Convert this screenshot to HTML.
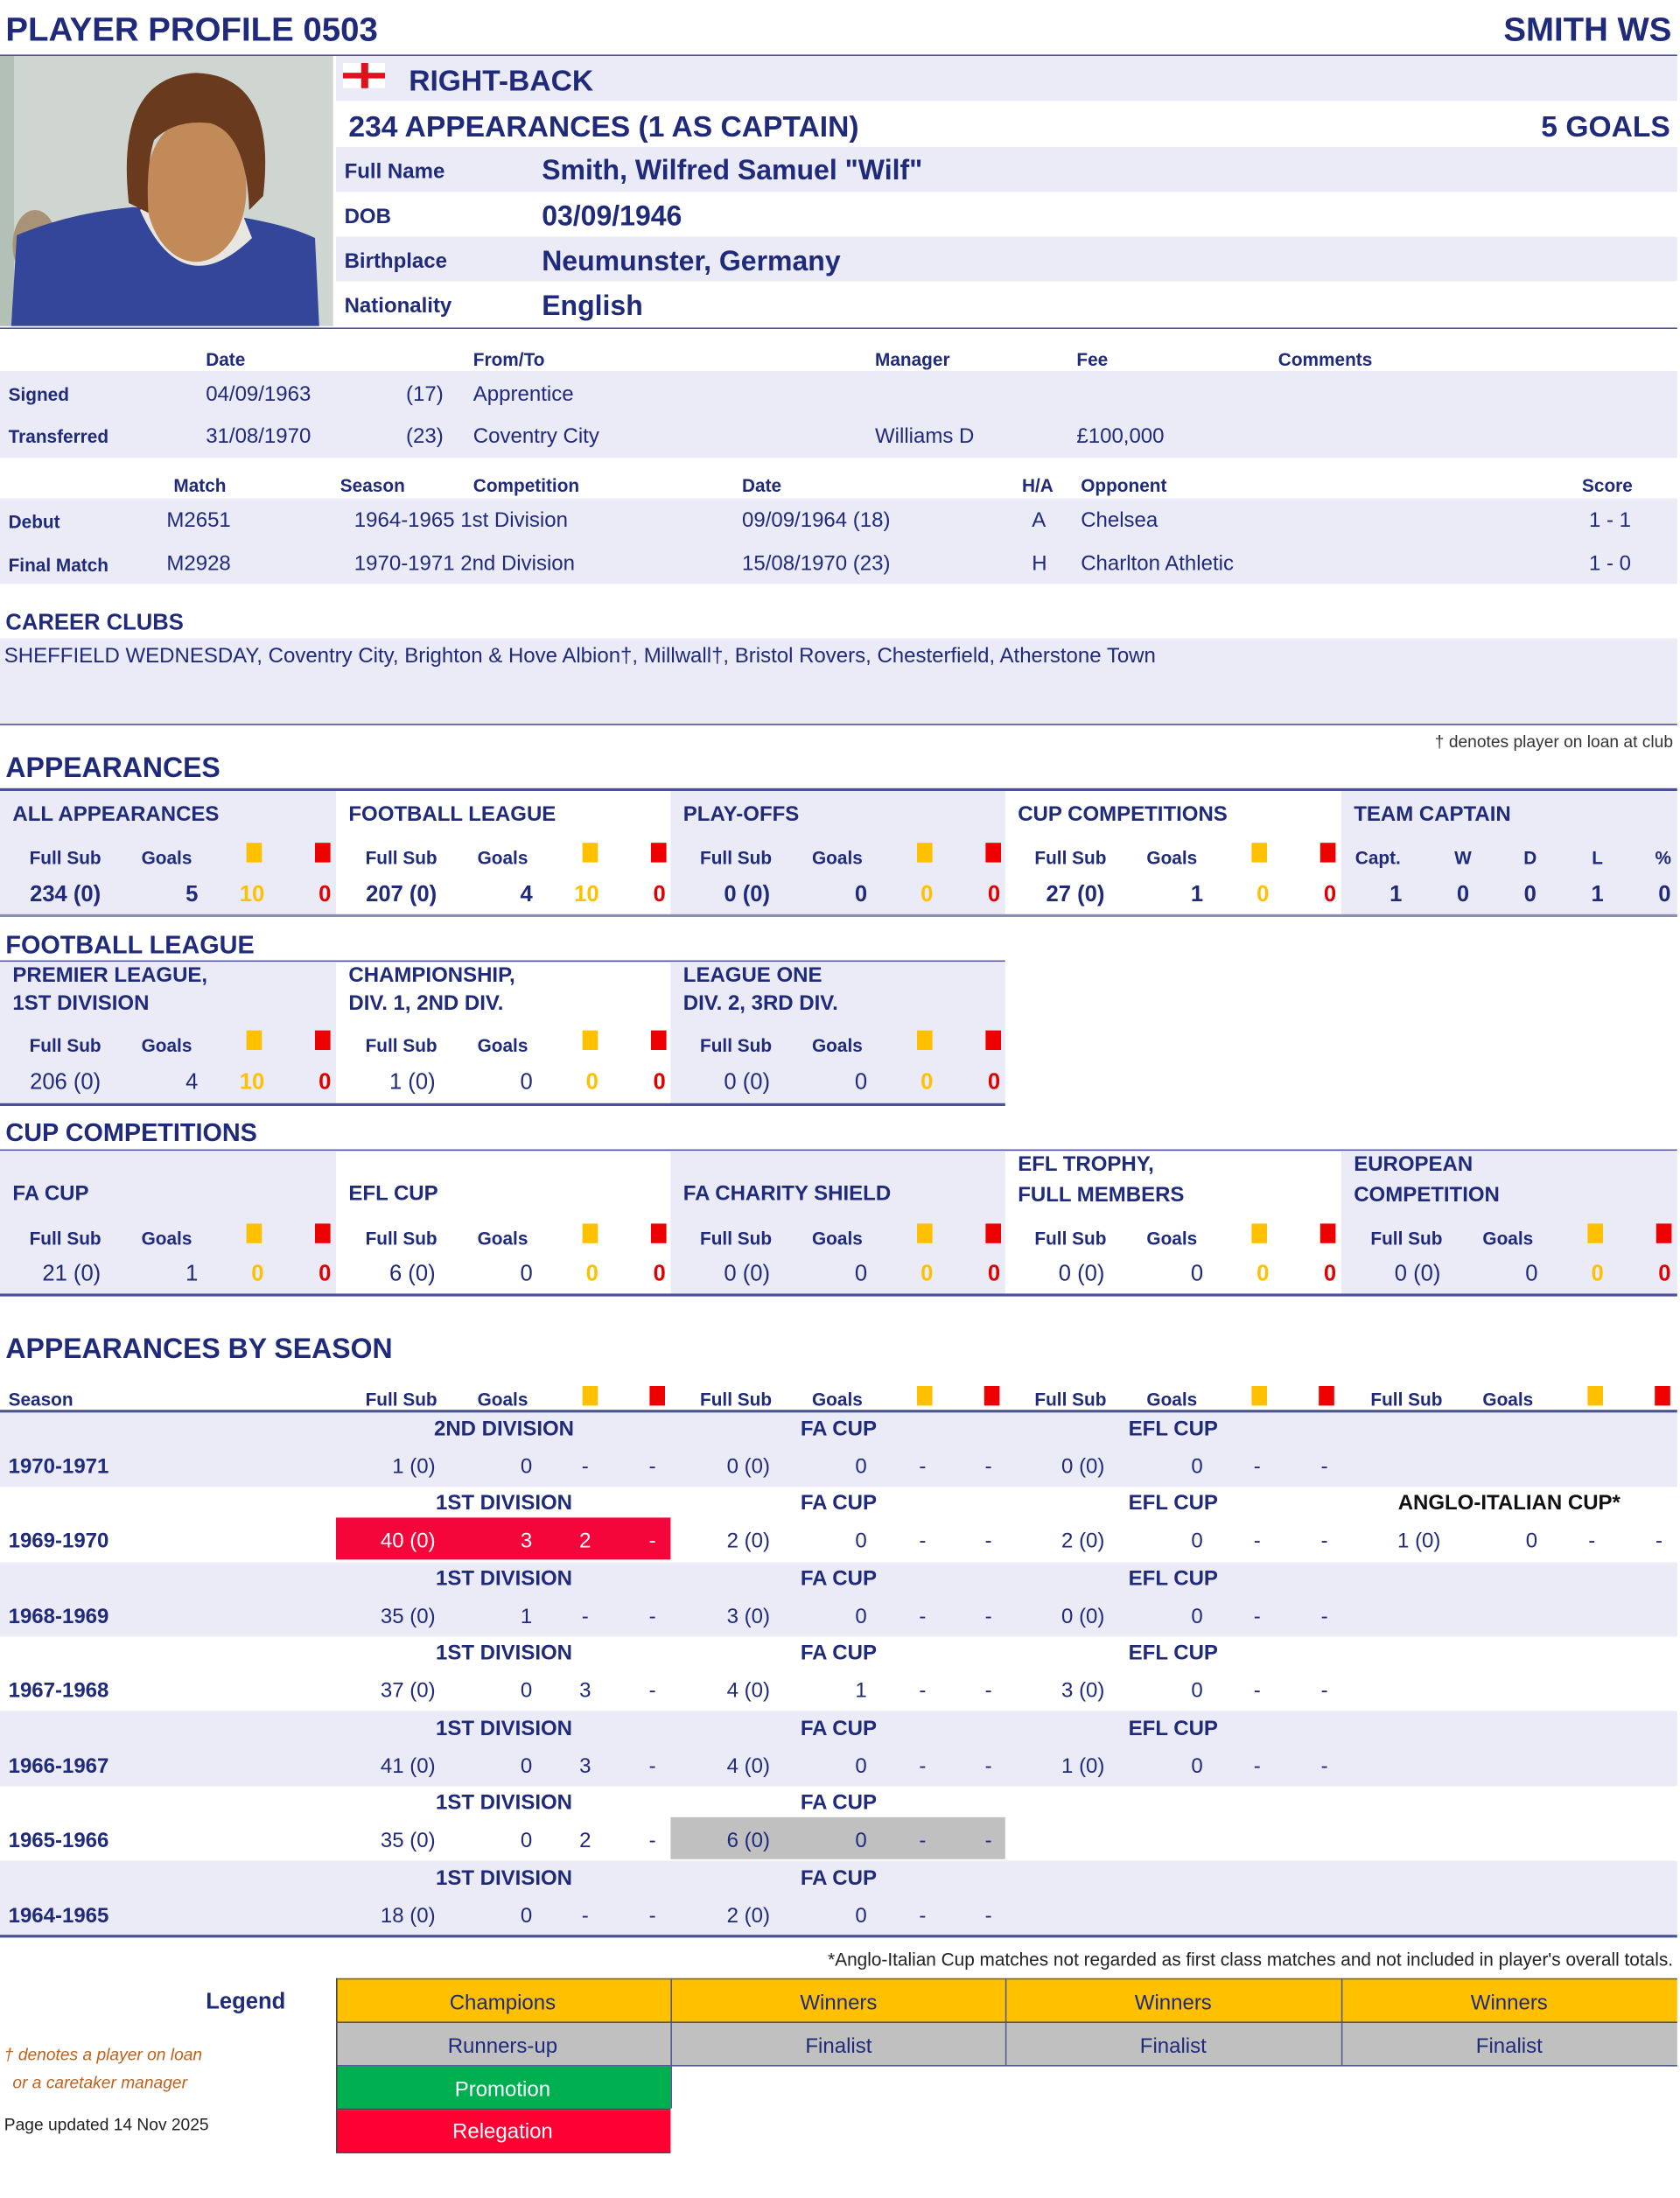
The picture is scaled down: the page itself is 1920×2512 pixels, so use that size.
<!DOCTYPE html>
<html><head><meta charset="utf-8">
<style>
html,body{margin:0;padding:0;background:#fff;}
body{width:1920px;height:2512px;overflow:hidden;position:relative;}
#w{position:absolute;left:0;top:0;width:1200px;height:1570px;transform:scale(1.6);transform-origin:0 0;font-family:"Liberation Sans",sans-serif;color:#1f2a7a;}
#w div{position:absolute;}
.t{white-space:nowrap;line-height:1;transform:translateY(-45%);}
.c{white-space:nowrap;line-height:1;transform:translate(-50%,-45%);}
.r{white-space:nowrap;line-height:1;transform:translate(-100%,-45%);}
.b{font-weight:bold;}
.lav{background:#ebebf7;}
.ln{height:1px;background:#4a4f99;}
.h{font-size:13px;font-weight:bold;}
.v{font-size:15px;}
.ys{width:11px;height:14px;background:#ffc000;}
.rs{width:11px;height:14px;background:#ee0000;}
.y{color:#ffc000;}
.rd{color:#e00000;}
.pt{font-size:15px;font-weight:bold;}
.sec{font-size:20px;font-weight:bold;}
</style></head><body><div id="w">

<!-- header -->
<div class="t b" style="left:4px;top:21px;font-size:24px;">PLAYER PROFILE 0503</div>
<div class="r b" style="left:1194px;top:21px;font-size:24px;">SMITH WS</div>
<div class="ln" style="left:0;top:39px;width:1198px;"></div>

<!-- photo -->
<svg style="position:absolute;left:0;top:40px" width="238" height="193" viewBox="0 0 238 193">
<rect width="238" height="193" fill="#cfd6d2"/>
<rect x="0" y="0" width="10" height="193" fill="#b2c0b6"/>
<ellipse cx="25" cy="135" rx="16" ry="25" fill="#a89378"/>
<ellipse cx="205" cy="150" rx="14" ry="22" fill="#b9a58c"/>
<path d="M8 193 L12 128 Q50 112 95 108 L150 112 Q200 118 225 130 L228 193 Z" fill="#34469a"/>
<path d="M100 110 Q130 178 180 130 L172 110 Q140 120 112 100 Z" fill="#e8e6e0"/>
<ellipse cx="140" cy="95" rx="36" ry="52" fill="#c28a58"/>
<path d="M92 105 Q82 15 140 12 Q198 14 188 100 L178 110 Q176 55 150 48 Q125 45 110 60 Q104 80 106 112 Z" fill="#6a3a1e"/>
</svg>

<!-- info rows -->
<div class="lav" style="left:240px;top:40px;width:958px;height:32px;"></div>
<div style="left:245px;top:45px;width:30px;height:18px;background:#fff;"></div>
<div style="left:258px;top:45px;width:5px;height:18px;background:#e0101c;"></div>
<div style="left:245px;top:52px;width:30px;height:4px;background:#e0101c;"></div>
<div class="t b" style="left:292px;top:57px;font-size:21px;">RIGHT-BACK</div>
<div class="t b" style="left:249px;top:90px;font-size:21px;">234 APPEARANCES (1 AS CAPTAIN)</div>
<div class="r b" style="left:1193px;top:90px;font-size:21px;">5 GOALS</div>
<div class="lav" style="left:240px;top:105px;width:958px;height:32px;"></div>
<div class="lav" style="left:240px;top:169px;width:958px;height:32px;"></div>
<div class="t b" style="left:246px;top:122px;font-size:15px;">Full Name</div>
<div class="t b" style="left:387px;top:121px;font-size:20px;">Smith, Wilfred Samuel "Wilf"</div>
<div class="t b" style="left:246px;top:154px;font-size:15px;">DOB</div>
<div class="t b" style="left:387px;top:154px;font-size:20px;">03/09/1946</div>
<div class="t b" style="left:246px;top:186px;font-size:15px;">Birthplace</div>
<div class="t b" style="left:387px;top:186px;font-size:20px;">Neumunster, Germany</div>
<div class="t b" style="left:246px;top:218px;font-size:15px;">Nationality</div>
<div class="t b" style="left:387px;top:218px;font-size:20px;">English</div>
<div class="ln" style="left:0;top:234px;width:1198px;"></div>

<!-- signed -->
<div class="t h" style="left:147px;top:256px;">Date</div>
<div class="t h" style="left:338px;top:256px;">From/To</div>
<div class="t h" style="left:625px;top:256px;">Manager</div>
<div class="t h" style="left:769px;top:256px;">Fee</div>
<div class="t h" style="left:913px;top:256px;">Comments</div>
<div class="lav" style="left:0;top:265px;width:1198px;height:62px;"></div>
<div class="t h" style="left:6px;top:281px;">Signed</div>
<div class="t v" style="left:147px;top:281px;">04/09/1963</div>
<div class="t v" style="left:290px;top:281px;">(17)</div>
<div class="t v" style="left:338px;top:281px;">Apprentice</div>
<div class="t h" style="left:6px;top:311px;">Transferred</div>
<div class="t v" style="left:147px;top:311px;">31/08/1970</div>
<div class="t v" style="left:290px;top:311px;">(23)</div>
<div class="t v" style="left:338px;top:311px;">Coventry City</div>
<div class="t v" style="left:625px;top:311px;">Williams D</div>
<div class="t v" style="left:769px;top:311px;">£100,000</div>

<!-- debut -->
<div class="t h" style="left:124px;top:346px;">Match</div>
<div class="t h" style="left:243px;top:346px;">Season</div>
<div class="t h" style="left:338px;top:346px;">Competition</div>
<div class="t h" style="left:530px;top:346px;">Date</div>
<div class="t h" style="left:730px;top:346px;">H/A</div>
<div class="t h" style="left:772px;top:346px;">Opponent</div>
<div class="t h" style="left:1130px;top:346px;">Score</div>
<div class="lav" style="left:0;top:356px;width:1198px;height:61px;"></div>
<div class="t h" style="left:6px;top:372px;">Debut</div>
<div class="t v" style="left:119px;top:371px;">M2651</div>
<div class="t v" style="left:253px;top:371px;">1964-1965 1st Division</div>
<div class="t v" style="left:530px;top:371px;">09/09/1964 (18)</div>
<div class="t v" style="left:737px;top:371px;">A</div>
<div class="t v" style="left:772px;top:371px;">Chelsea</div>
<div class="t v" style="left:1135px;top:371px;">1 - 1</div>
<div class="t h" style="left:6px;top:403px;">Final Match</div>
<div class="t v" style="left:119px;top:402px;">M2928</div>
<div class="t v" style="left:253px;top:402px;">1970-1971 2nd Division</div>
<div class="t v" style="left:530px;top:402px;">15/08/1970 (23)</div>
<div class="t v" style="left:737px;top:402px;">H</div>
<div class="t v" style="left:772px;top:402px;">Charlton Athletic</div>
<div class="t v" style="left:1135px;top:402px;">1 - 0</div>

<!-- career clubs -->
<div class="t b" style="left:4px;top:445px;font-size:16px;">CAREER CLUBS</div>
<div class="lav" style="left:0;top:456px;width:1198px;height:61px;"></div>
<div class="t v" style="left:3px;top:468px;">SHEFFIELD WEDNESDAY, Coventry City, Brighton &amp; Hove Albion†, Millwall†, Bristol Rovers, Chesterfield, Atherstone Town</div>
<div class="ln" style="left:0;top:517px;width:1198px;"></div>
<div class="r" style="left:1195px;top:529px;font-size:12px;color:#333;">† denotes player on loan at club</div>

<!-- APPEARANCES -->
<div class="t sec" style="left:4px;top:548px;">APPEARANCES</div>
<div class="ln" style="left:0;top:563px;width:1198px;height:2px;"></div>
<div class="lav" style="left:0;top:565px;width:240px;height:88px;"></div>
<div class="lav" style="left:479px;top:565px;width:239px;height:88px;"></div>
<div class="lav" style="left:958px;top:565px;width:240px;height:88px;"></div>
<div class="ln" style="left:0;top:653px;width:1198px;height:2px;background:#8a8eb0;"></div>

<div class="t pt" style="left:9px;top:581px;">ALL APPEARANCES</div>
<div class="t pt" style="left:249px;top:581px;">FOOTBALL LEAGUE</div>
<div class="t pt" style="left:488px;top:581px;">PLAY-OFFS</div>
<div class="t pt" style="left:727px;top:581px;">CUP COMPETITIONS</div>
<div class="t pt" style="left:967px;top:581px;">TEAM CAPTAIN</div>

<div class="t h" style="left:21px;top:612px;">Full Sub</div><div class="t h" style="left:101px;top:612px;">Goals</div><div class="ys" style="left:176px;top:602px;"></div><div class="rs" style="left:225px;top:602px;"></div>
<div class="t h" style="left:261px;top:612px;">Full Sub</div><div class="t h" style="left:341px;top:612px;">Goals</div><div class="ys" style="left:416px;top:602px;"></div><div class="rs" style="left:465px;top:602px;"></div>
<div class="t h" style="left:500px;top:612px;">Full Sub</div><div class="t h" style="left:580px;top:612px;">Goals</div><div class="ys" style="left:655px;top:602px;"></div><div class="rs" style="left:704px;top:602px;"></div>
<div class="t h" style="left:739px;top:612px;">Full Sub</div><div class="t h" style="left:819px;top:612px;">Goals</div><div class="ys" style="left:894px;top:602px;"></div><div class="rs" style="left:943px;top:602px;"></div>
<div class="t h" style="left:968px;top:612px;">Capt.</div><div class="c h" style="left:1045px;top:612px;">W</div><div class="c h" style="left:1093px;top:612px;">D</div><div class="c h" style="left:1141px;top:612px;">L</div><div class="c h" style="left:1188px;top:612px;">%</div>
<div class="r b" style="left:72px;top:639px;font-size:16px;">234 (0)</div><div class="c b" style="left:137px;top:639px;font-size:16px;">5</div><div class="c b y" style="left:180px;top:639px;font-size:16px;">10</div><div class="c b rd" style="left:232px;top:639px;font-size:16px;">0</div>
<div class="r b" style="left:312px;top:639px;font-size:16px;">207 (0)</div><div class="c b" style="left:376px;top:639px;font-size:16px;">4</div><div class="c b y" style="left:419px;top:639px;font-size:16px;">10</div><div class="c b rd" style="left:471px;top:639px;font-size:16px;">0</div>
<div class="r b" style="left:550px;top:639px;font-size:16px;">0 (0)</div><div class="c b" style="left:615px;top:639px;font-size:16px;">0</div><div class="c b y" style="left:662px;top:639px;font-size:16px;">0</div><div class="c b rd" style="left:710px;top:639px;font-size:16px;">0</div>
<div class="r b" style="left:789px;top:639px;font-size:16px;">27 (0)</div><div class="c b" style="left:855px;top:639px;font-size:16px;">1</div><div class="c b y" style="left:902px;top:639px;font-size:16px;">0</div><div class="c b rd" style="left:950px;top:639px;font-size:16px;">0</div>
<div class="c b" style="left:997px;top:639px;font-size:16px;">1</div><div class="c b" style="left:1045px;top:639px;font-size:16px;">0</div><div class="c b" style="left:1093px;top:639px;font-size:16px;">0</div><div class="c b" style="left:1141px;top:639px;font-size:16px;">1</div><div class="c b" style="left:1189px;top:639px;font-size:16px;">0</div>

<!-- FOOTBALL LEAGUE -->
<div class="t sec" style="left:4px;top:674px;font-size:18px;">FOOTBALL LEAGUE</div>
<div class="ln" style="left:0;top:686px;width:718px;"></div>
<div class="lav" style="left:0;top:687px;width:240px;height:101px;"></div>
<div class="lav" style="left:479px;top:687px;width:239px;height:101px;"></div>
<div class="ln" style="left:0;top:788px;width:718px;height:2px;"></div>
<div class="t pt" style="left:9px;top:696px;">PREMIER LEAGUE,</div><div class="t pt" style="left:9px;top:716px;">1ST DIVISION</div>
<div class="t pt" style="left:249px;top:696px;">CHAMPIONSHIP,</div><div class="t pt" style="left:249px;top:716px;">DIV. 1, 2ND DIV.</div>
<div class="t pt" style="left:488px;top:696px;">LEAGUE ONE</div><div class="t pt" style="left:488px;top:716px;">DIV. 2, 3RD DIV.</div>
<div class="t h" style="left:21px;top:746px;">Full Sub</div><div class="t h" style="left:101px;top:746px;">Goals</div><div class="ys" style="left:176px;top:736px;"></div><div class="rs" style="left:225px;top:736px;"></div>
<div class="t h" style="left:261px;top:746px;">Full Sub</div><div class="t h" style="left:341px;top:746px;">Goals</div><div class="ys" style="left:416px;top:736px;"></div><div class="rs" style="left:465px;top:736px;"></div>
<div class="t h" style="left:500px;top:746px;">Full Sub</div><div class="t h" style="left:580px;top:746px;">Goals</div><div class="ys" style="left:655px;top:736px;"></div><div class="rs" style="left:704px;top:736px;"></div>
<div class="r" style="left:72px;top:773px;font-size:16px;">206 (0)</div><div class="c" style="left:137px;top:773px;font-size:16px;">4</div><div class="c b y" style="left:180px;top:773px;font-size:16px;">10</div><div class="c b rd" style="left:232px;top:773px;font-size:16px;">0</div>
<div class="r" style="left:311px;top:773px;font-size:16px;">1 (0)</div><div class="c" style="left:376px;top:773px;font-size:16px;">0</div><div class="c b y" style="left:423px;top:773px;font-size:16px;">0</div><div class="c b rd" style="left:471px;top:773px;font-size:16px;">0</div>
<div class="r" style="left:550px;top:773px;font-size:16px;">0 (0)</div><div class="c" style="left:615px;top:773px;font-size:16px;">0</div><div class="c b y" style="left:662px;top:773px;font-size:16px;">0</div><div class="c b rd" style="left:710px;top:773px;font-size:16px;">0</div>

<!-- CUP COMPETITIONS -->
<div class="t sec" style="left:4px;top:808px;font-size:18px;">CUP COMPETITIONS</div>
<div class="ln" style="left:0;top:821px;width:1198px;"></div>
<div class="lav" style="left:0;top:822px;width:240px;height:102px;"></div>
<div class="lav" style="left:479px;top:822px;width:239px;height:102px;"></div>
<div class="lav" style="left:958px;top:822px;width:240px;height:102px;"></div>
<div class="ln" style="left:0;top:924px;width:1198px;height:2px;"></div>
<div class="t pt" style="left:9px;top:852px;">FA CUP</div>
<div class="t pt" style="left:249px;top:852px;">EFL CUP</div>
<div class="t pt" style="left:488px;top:852px;">FA CHARITY SHIELD</div>
<div class="t pt" style="left:727px;top:831px;">EFL TROPHY,</div><div class="t pt" style="left:727px;top:853px;">FULL MEMBERS</div>
<div class="t pt" style="left:967px;top:831px;">EUROPEAN</div><div class="t pt" style="left:967px;top:853px;">COMPETITION</div>
<div class="t h" style="left:21px;top:884px;">Full Sub</div><div class="t h" style="left:101px;top:884px;">Goals</div><div class="ys" style="left:176px;top:874px;"></div><div class="rs" style="left:225px;top:874px;"></div>
<div class="t h" style="left:261px;top:884px;">Full Sub</div><div class="t h" style="left:341px;top:884px;">Goals</div><div class="ys" style="left:416px;top:874px;"></div><div class="rs" style="left:465px;top:874px;"></div>
<div class="t h" style="left:500px;top:884px;">Full Sub</div><div class="t h" style="left:580px;top:884px;">Goals</div><div class="ys" style="left:655px;top:874px;"></div><div class="rs" style="left:704px;top:874px;"></div>
<div class="t h" style="left:739px;top:884px;">Full Sub</div><div class="t h" style="left:819px;top:884px;">Goals</div><div class="ys" style="left:894px;top:874px;"></div><div class="rs" style="left:943px;top:874px;"></div>
<div class="t h" style="left:979px;top:884px;">Full Sub</div><div class="t h" style="left:1059px;top:884px;">Goals</div><div class="ys" style="left:1134px;top:874px;"></div><div class="rs" style="left:1183px;top:874px;"></div>
<div class="r" style="left:72px;top:910px;font-size:16px;">21 (0)</div><div class="c" style="left:137px;top:910px;font-size:16px;">1</div><div class="c b y" style="left:184px;top:910px;font-size:16px;">0</div><div class="c b rd" style="left:232px;top:910px;font-size:16px;">0</div>
<div class="r" style="left:311px;top:910px;font-size:16px;">6 (0)</div><div class="c" style="left:376px;top:910px;font-size:16px;">0</div><div class="c b y" style="left:423px;top:910px;font-size:16px;">0</div><div class="c b rd" style="left:471px;top:910px;font-size:16px;">0</div>
<div class="r" style="left:550px;top:910px;font-size:16px;">0 (0)</div><div class="c" style="left:615px;top:910px;font-size:16px;">0</div><div class="c b y" style="left:662px;top:910px;font-size:16px;">0</div><div class="c b rd" style="left:710px;top:910px;font-size:16px;">0</div>
<div class="r" style="left:789px;top:910px;font-size:16px;">0 (0)</div><div class="c" style="left:855px;top:910px;font-size:16px;">0</div><div class="c b y" style="left:902px;top:910px;font-size:16px;">0</div><div class="c b rd" style="left:950px;top:910px;font-size:16px;">0</div>
<div class="r" style="left:1029px;top:910px;font-size:16px;">0 (0)</div><div class="c" style="left:1094px;top:910px;font-size:16px;">0</div><div class="c b y" style="left:1141px;top:910px;font-size:16px;">0</div><div class="c b rd" style="left:1189px;top:910px;font-size:16px;">0</div>

<!-- APPEARANCES BY SEASON -->
<div class="t sec" style="left:4px;top:963px;">APPEARANCES BY SEASON</div>
<div class="t h" style="left:6px;top:999px;">Season</div>
<div class="t h" style="left:261px;top:999px;">Full Sub</div><div class="t h" style="left:341px;top:999px;">Goals</div><div class="ys" style="left:416px;top:990px;"></div><div class="rs" style="left:464px;top:990px;"></div>
<div class="t h" style="left:500px;top:999px;">Full Sub</div><div class="t h" style="left:580px;top:999px;">Goals</div><div class="ys" style="left:655px;top:990px;"></div><div class="rs" style="left:703px;top:990px;"></div>
<div class="t h" style="left:739px;top:999px;">Full Sub</div><div class="t h" style="left:819px;top:999px;">Goals</div><div class="ys" style="left:894px;top:990px;"></div><div class="rs" style="left:942px;top:990px;"></div>
<div class="t h" style="left:979px;top:999px;">Full Sub</div><div class="t h" style="left:1059px;top:999px;">Goals</div><div class="ys" style="left:1134px;top:990px;"></div><div class="rs" style="left:1182px;top:990px;"></div>
<div class="ln" style="left:0;top:1007px;width:1198px;height:2px;"></div>

<div class="lav" style="left:0;top:1009px;width:1198px;height:53px;"></div>
<div class="lav" style="left:0;top:1116px;width:1198px;height:53px;"></div>
<div class="lav" style="left:0;top:1222px;width:1198px;height:54px;"></div>
<div class="lav" style="left:0;top:1329px;width:1198px;height:53px;"></div>
<div style="left:240px;top:1084px;width:239px;height:30px;background:#f5063a;"></div>
<div style="left:479px;top:1298px;width:239px;height:30px;background:#c0c0c0;"></div>
<div class="ln" style="left:0;top:1382px;width:1198px;height:2px;"></div>

<div class="c pt" style="left:360px;top:1020px;">2ND DIVISION</div><div class="c pt" style="left:599px;top:1020px;">FA CUP</div><div class="c pt" style="left:838px;top:1020px;">EFL CUP</div>
<div class="t pt" style="left:6px;top:1047px;">1970-1971</div>
<div class="r v" style="left:311px;top:1047px;">1 (0)</div><div class="c v" style="left:376px;top:1047px;">0</div><div class="c v" style="left:418px;top:1047px;">-</div><div class="c v" style="left:466px;top:1047px;">-</div>
<div class="r v" style="left:550px;top:1047px;">0 (0)</div><div class="c v" style="left:615px;top:1047px;">0</div><div class="c v" style="left:659px;top:1047px;">-</div><div class="c v" style="left:706px;top:1047px;">-</div>
<div class="r v" style="left:789px;top:1047px;">0 (0)</div><div class="c v" style="left:855px;top:1047px;">0</div><div class="c v" style="left:898px;top:1047px;">-</div><div class="c v" style="left:946px;top:1047px;">-</div>

<div class="c pt" style="left:360px;top:1073px;">1ST DIVISION</div><div class="c pt" style="left:599px;top:1073px;">FA CUP</div><div class="c pt" style="left:838px;top:1073px;">EFL CUP</div><div class="c pt" style="left:1078px;top:1073px;color:#111;">ANGLO-ITALIAN CUP*</div>
<div class="t pt" style="left:6px;top:1100px;">1969-1970</div>
<div class="r v" style="left:311px;top:1100px;color:#fff;">40 (0)</div><div class="c v" style="left:376px;top:1100px;color:#fff;">3</div><div class="c v" style="left:418px;top:1100px;color:#fff;">2</div><div class="c v" style="left:466px;top:1100px;color:#fff;">-</div>
<div class="r v" style="left:550px;top:1100px;">2 (0)</div><div class="c v" style="left:615px;top:1100px;">0</div><div class="c v" style="left:659px;top:1100px;">-</div><div class="c v" style="left:706px;top:1100px;">-</div>
<div class="r v" style="left:789px;top:1100px;">2 (0)</div><div class="c v" style="left:855px;top:1100px;">0</div><div class="c v" style="left:898px;top:1100px;">-</div><div class="c v" style="left:946px;top:1100px;">-</div>
<div class="r v" style="left:1029px;top:1100px;">1 (0)</div><div class="c v" style="left:1094px;top:1100px;">0</div><div class="c v" style="left:1137px;top:1100px;">-</div><div class="c v" style="left:1185px;top:1100px;">-</div>

<div class="c pt" style="left:360px;top:1127px;">1ST DIVISION</div><div class="c pt" style="left:599px;top:1127px;">FA CUP</div><div class="c pt" style="left:838px;top:1127px;">EFL CUP</div>
<div class="t pt" style="left:6px;top:1154px;">1968-1969</div>
<div class="r v" style="left:311px;top:1154px;">35 (0)</div><div class="c v" style="left:376px;top:1154px;">1</div><div class="c v" style="left:418px;top:1154px;">-</div><div class="c v" style="left:466px;top:1154px;">-</div>
<div class="r v" style="left:550px;top:1154px;">3 (0)</div><div class="c v" style="left:615px;top:1154px;">0</div><div class="c v" style="left:659px;top:1154px;">-</div><div class="c v" style="left:706px;top:1154px;">-</div>
<div class="r v" style="left:789px;top:1154px;">0 (0)</div><div class="c v" style="left:855px;top:1154px;">0</div><div class="c v" style="left:898px;top:1154px;">-</div><div class="c v" style="left:946px;top:1154px;">-</div>

<div class="c pt" style="left:360px;top:1180px;">1ST DIVISION</div><div class="c pt" style="left:599px;top:1180px;">FA CUP</div><div class="c pt" style="left:838px;top:1180px;">EFL CUP</div>
<div class="t pt" style="left:6px;top:1207px;">1967-1968</div>
<div class="r v" style="left:311px;top:1207px;">37 (0)</div><div class="c v" style="left:376px;top:1207px;">0</div><div class="c v" style="left:418px;top:1207px;">3</div><div class="c v" style="left:466px;top:1207px;">-</div>
<div class="r v" style="left:550px;top:1207px;">4 (0)</div><div class="c v" style="left:615px;top:1207px;">1</div><div class="c v" style="left:659px;top:1207px;">-</div><div class="c v" style="left:706px;top:1207px;">-</div>
<div class="r v" style="left:789px;top:1207px;">3 (0)</div><div class="c v" style="left:855px;top:1207px;">0</div><div class="c v" style="left:898px;top:1207px;">-</div><div class="c v" style="left:946px;top:1207px;">-</div>

<div class="c pt" style="left:360px;top:1234px;">1ST DIVISION</div><div class="c pt" style="left:599px;top:1234px;">FA CUP</div><div class="c pt" style="left:838px;top:1234px;">EFL CUP</div>
<div class="t pt" style="left:6px;top:1261px;">1966-1967</div>
<div class="r v" style="left:311px;top:1261px;">41 (0)</div><div class="c v" style="left:376px;top:1261px;">0</div><div class="c v" style="left:418px;top:1261px;">3</div><div class="c v" style="left:466px;top:1261px;">-</div>
<div class="r v" style="left:550px;top:1261px;">4 (0)</div><div class="c v" style="left:615px;top:1261px;">0</div><div class="c v" style="left:659px;top:1261px;">-</div><div class="c v" style="left:706px;top:1261px;">-</div>
<div class="r v" style="left:789px;top:1261px;">1 (0)</div><div class="c v" style="left:855px;top:1261px;">0</div><div class="c v" style="left:898px;top:1261px;">-</div><div class="c v" style="left:946px;top:1261px;">-</div>

<div class="c pt" style="left:360px;top:1287px;">1ST DIVISION</div><div class="c pt" style="left:599px;top:1287px;">FA CUP</div>
<div class="t pt" style="left:6px;top:1314px;">1965-1966</div>
<div class="r v" style="left:311px;top:1314px;">35 (0)</div><div class="c v" style="left:376px;top:1314px;">0</div><div class="c v" style="left:418px;top:1314px;">2</div><div class="c v" style="left:466px;top:1314px;">-</div>
<div class="r v" style="left:550px;top:1314px;">6 (0)</div><div class="c v" style="left:615px;top:1314px;">0</div><div class="c v" style="left:659px;top:1314px;">-</div><div class="c v" style="left:706px;top:1314px;">-</div>

<div class="c pt" style="left:360px;top:1341px;">1ST DIVISION</div><div class="c pt" style="left:599px;top:1341px;">FA CUP</div>
<div class="t pt" style="left:6px;top:1368px;">1964-1965</div>
<div class="r v" style="left:311px;top:1368px;">18 (0)</div><div class="c v" style="left:376px;top:1368px;">0</div><div class="c v" style="left:418px;top:1368px;">-</div><div class="c v" style="left:466px;top:1368px;">-</div>
<div class="r v" style="left:550px;top:1368px;">2 (0)</div><div class="c v" style="left:615px;top:1368px;">0</div><div class="c v" style="left:659px;top:1368px;">-</div><div class="c v" style="left:706px;top:1368px;">-</div>

<div class="r" style="left:1195px;top:1399px;font-size:13px;color:#222;">*Anglo-Italian Cup matches not regarded as first class matches and not included in player's overall totals.</div>

<!-- legend -->
<div class="t b" style="left:147px;top:1430px;font-size:16px;">Legend</div>
<div style="left:240px;top:1413px;width:958px;height:31px;background:#ffc000;border-top:1px solid #7a6a30;"></div>
<div style="left:240px;top:1445px;width:958px;height:30px;background:#c0c0c0;border-bottom:1px solid #555a90;"></div>
<div style="left:240px;top:1476px;width:239px;height:30px;background:#00b050;"></div>
<div style="left:240px;top:1507px;width:239px;height:30px;background:#ff0033;border-bottom:1px solid #444;"></div>
<div style="left:240px;top:1413px;width:1px;height:124px;background:#444;"></div>
<div style="left:479px;top:1413px;width:1px;height:93px;background:#555a90;"></div>
<div style="left:718px;top:1413px;width:1px;height:62px;background:#555a90;"></div>
<div style="left:958px;top:1413px;width:1px;height:62px;background:#555a90;"></div>
<div style="left:240px;top:1444px;width:958px;height:1px;background:#555;"></div>
<div style="left:240px;top:1506px;width:239px;height:1px;background:#444;"></div>
<div class="c v" style="left:359px;top:1430px;">Champions</div>
<div class="c v" style="left:599px;top:1430px;">Winners</div>
<div class="c v" style="left:838px;top:1430px;">Winners</div>
<div class="c v" style="left:1078px;top:1430px;">Winners</div>
<div class="c v" style="left:359px;top:1461px;">Runners-up</div>
<div class="c v" style="left:599px;top:1461px;">Finalist</div>
<div class="c v" style="left:838px;top:1461px;">Finalist</div>
<div class="c v" style="left:1078px;top:1461px;">Finalist</div>
<div class="c v" style="left:359px;top:1492px;color:#fff;">Promotion</div>
<div class="c v" style="left:359px;top:1522px;color:#fff;">Relegation</div>
<div class="t" style="left:3px;top:1467px;font-size:12px;font-style:italic;color:#c0601a;">† denotes a player on loan</div>
<div class="t" style="left:9px;top:1487px;font-size:12px;font-style:italic;color:#c0601a;">or a caretaker manager</div>
<div class="t" style="left:3px;top:1517px;font-size:12px;color:#222;">Page updated 14 Nov 2025</div>
</div></body></html>
